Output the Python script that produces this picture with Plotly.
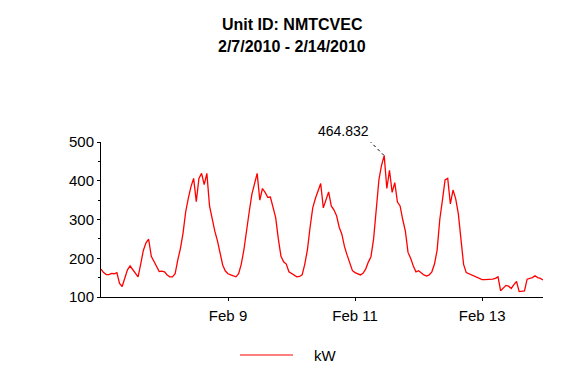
import pandas as pd
import plotly.graph_objects as go

start_time = "2010-02-07 00:00"
title_lines = ["Unit ID: NMTCVEC", "2/7/2010 - 2/14/2010"]
series_name = "kW"

# hourly kW readings, Feb 7 .. Feb 13
kw_feb07 = [172, 163, 158, 158, 161, 160, 163, 135, 127, 152, 170, 180,
            170, 160, 152, 185, 220, 240, 249, 205, 192, 180, 166, 167]
kw_feb08 = [165, 157, 152, 152, 160, 195, 225, 265, 320, 355, 385, 406,
            346, 406, 419, 390, 419, 335, 300, 270, 245, 215, 182, 167]
kw_feb09 = [160, 157, 154, 152, 160, 185, 222, 265, 320, 365, 395, 419,
            350, 380, 370, 357, 358, 332, 305, 250, 205, 191, 185, 165]
kw_feb10 = [160, 155, 152, 153, 157, 185, 222, 280, 330, 354, 375, 393,
            330, 350, 371, 335, 325, 310, 280, 262, 230, 208, 190, 168]
kw_feb11 = [163, 160, 157, 161, 172, 190, 204, 250, 324, 402, 440, 464.832,
            380, 427, 370, 395, 345, 335, 300, 270, 215, 200, 180, 165]
kw_feb12 = [168, 162, 157, 154, 157, 165, 185, 221, 300, 350, 402, 406,
            340, 376, 354, 315, 240, 184, 163, 160, 157, 155, 150, 147]
kw_feb13 = [145, 145, 145, 145, 146, 148, 152, 116, 122, 130, 128, 122,
            132, 140, 114, 115, 116, 146, 148, 150, 155, 150, 148, 144]

tick_dates = ["2010-02-09", "2010-02-11", "2010-02-13"]
tick_labels = ["Feb 9", "Feb 11", "Feb 13"]

kw = kw_feb07 + kw_feb08 + kw_feb09 + kw_feb10 + kw_feb11 + kw_feb12 + kw_feb13
times = pd.date_range(start_time, periods=len(kw), freq="h")

peak_i = max(range(len(kw)), key=lambda i: kw[i])
peak_t = times[peak_i]
peak_v = kw[peak_i]

FONT = "Liberation Sans, Arial, sans-serif"

fig = go.Figure()
fig.add_trace(go.Scatter(x=times, y=kw, mode="lines", name=series_name,
                         line=dict(color="#ff0000", width=1.3),
                         showlegend=False, hoverinfo="skip"))

xr = [times[0], times[-1]]
fig.update_layout(
    width=580, height=380,
    margin=dict(l=101, r=37, t=142, b=83),
    paper_bgcolor="white", plot_bgcolor="white",
    font=dict(family=FONT, color="black", size=15),
    xaxis=dict(range=xr, showgrid=False, zeroline=False,
               showline=True, linecolor="black", linewidth=1,
               ticks="outside", ticklen=3, tickcolor="black",
               tickvals=tick_dates, ticktext=tick_labels,
               tickfont=dict(size=15), ticklabelstandoff=2),
    yaxis=dict(range=[100, 500], showgrid=False, zeroline=False,
               showline=True, linecolor="black", linewidth=1,
               ticks="outside", ticklen=3, tickcolor="black",
               dtick=100, tickfont=dict(size=15),
               minor=dict(ticks="outside", ticklen=2, dtick=50, tickcolor="black")),
    # companion axes to make the ticks cross the axis lines
    xaxis2=dict(overlaying="x", anchor="y", side="bottom", range=xr,
                showgrid=False, zeroline=False, showline=False,
                ticks="inside", ticklen=2, tickcolor="black",
                tickvals=tick_dates, showticklabels=False),
    yaxis2=dict(overlaying="y", anchor="x", side="left", range=[100, 500],
                showgrid=False, zeroline=False, showline=False,
                ticks="inside", ticklen=3, tickcolor="black", dtick=100,
                showticklabels=False,
                minor=dict(ticks="inside", ticklen=2, dtick=50, tickcolor="black")),
)

ph = 380 - 142 - 83
pw = 580 - 101 - 37
def py(pix):
    return (380 - 83 - pix) / ph
def px(pix):
    return (pix - 101) / pw

# title lines
for txt, ypix in zip(title_lines, [24.3, 46]):
    fig.add_annotation(text="<b>%s</b>" % txt, xref="paper", yref="paper",
                       x=px(292), y=py(ypix), xanchor="center", yanchor="middle",
                       showarrow=False, font=dict(size=16, family=FONT))

# peak label
fig.add_annotation(text="%.3f" % peak_v, x=peak_t, y=peak_v, xref="x", yref="y",
                   showarrow=False, xshift=-41, yshift=25,
                   font=dict(size=14, family=FONT))
fig.add_shape(type="line", xref="x", yref="y", xsizemode="pixel", ysizemode="pixel",
              xanchor=peak_t, yanchor=peak_v, x0=-15, y0=15, x1=0, y1=0,
              line=dict(color="black", width=1, dash="dot"))

# legend drawn manually
fig.add_shape(type="line", xref="paper", yref="paper",
              x0=px(240), x1=px(293), y0=py(355), y1=py(355),
              line=dict(color="#ff0000", width=1))
fig.add_annotation(text=series_name, xref="paper", yref="paper",
                   x=px(312), y=py(355), xanchor="left", yanchor="middle",
                   showarrow=False, font=dict(size=15, family=FONT))

fig.write_html("out.html", config={"displayModeBar": False},
               post_script="document.body.style.margin='0';document.body.style.padding='0';")
